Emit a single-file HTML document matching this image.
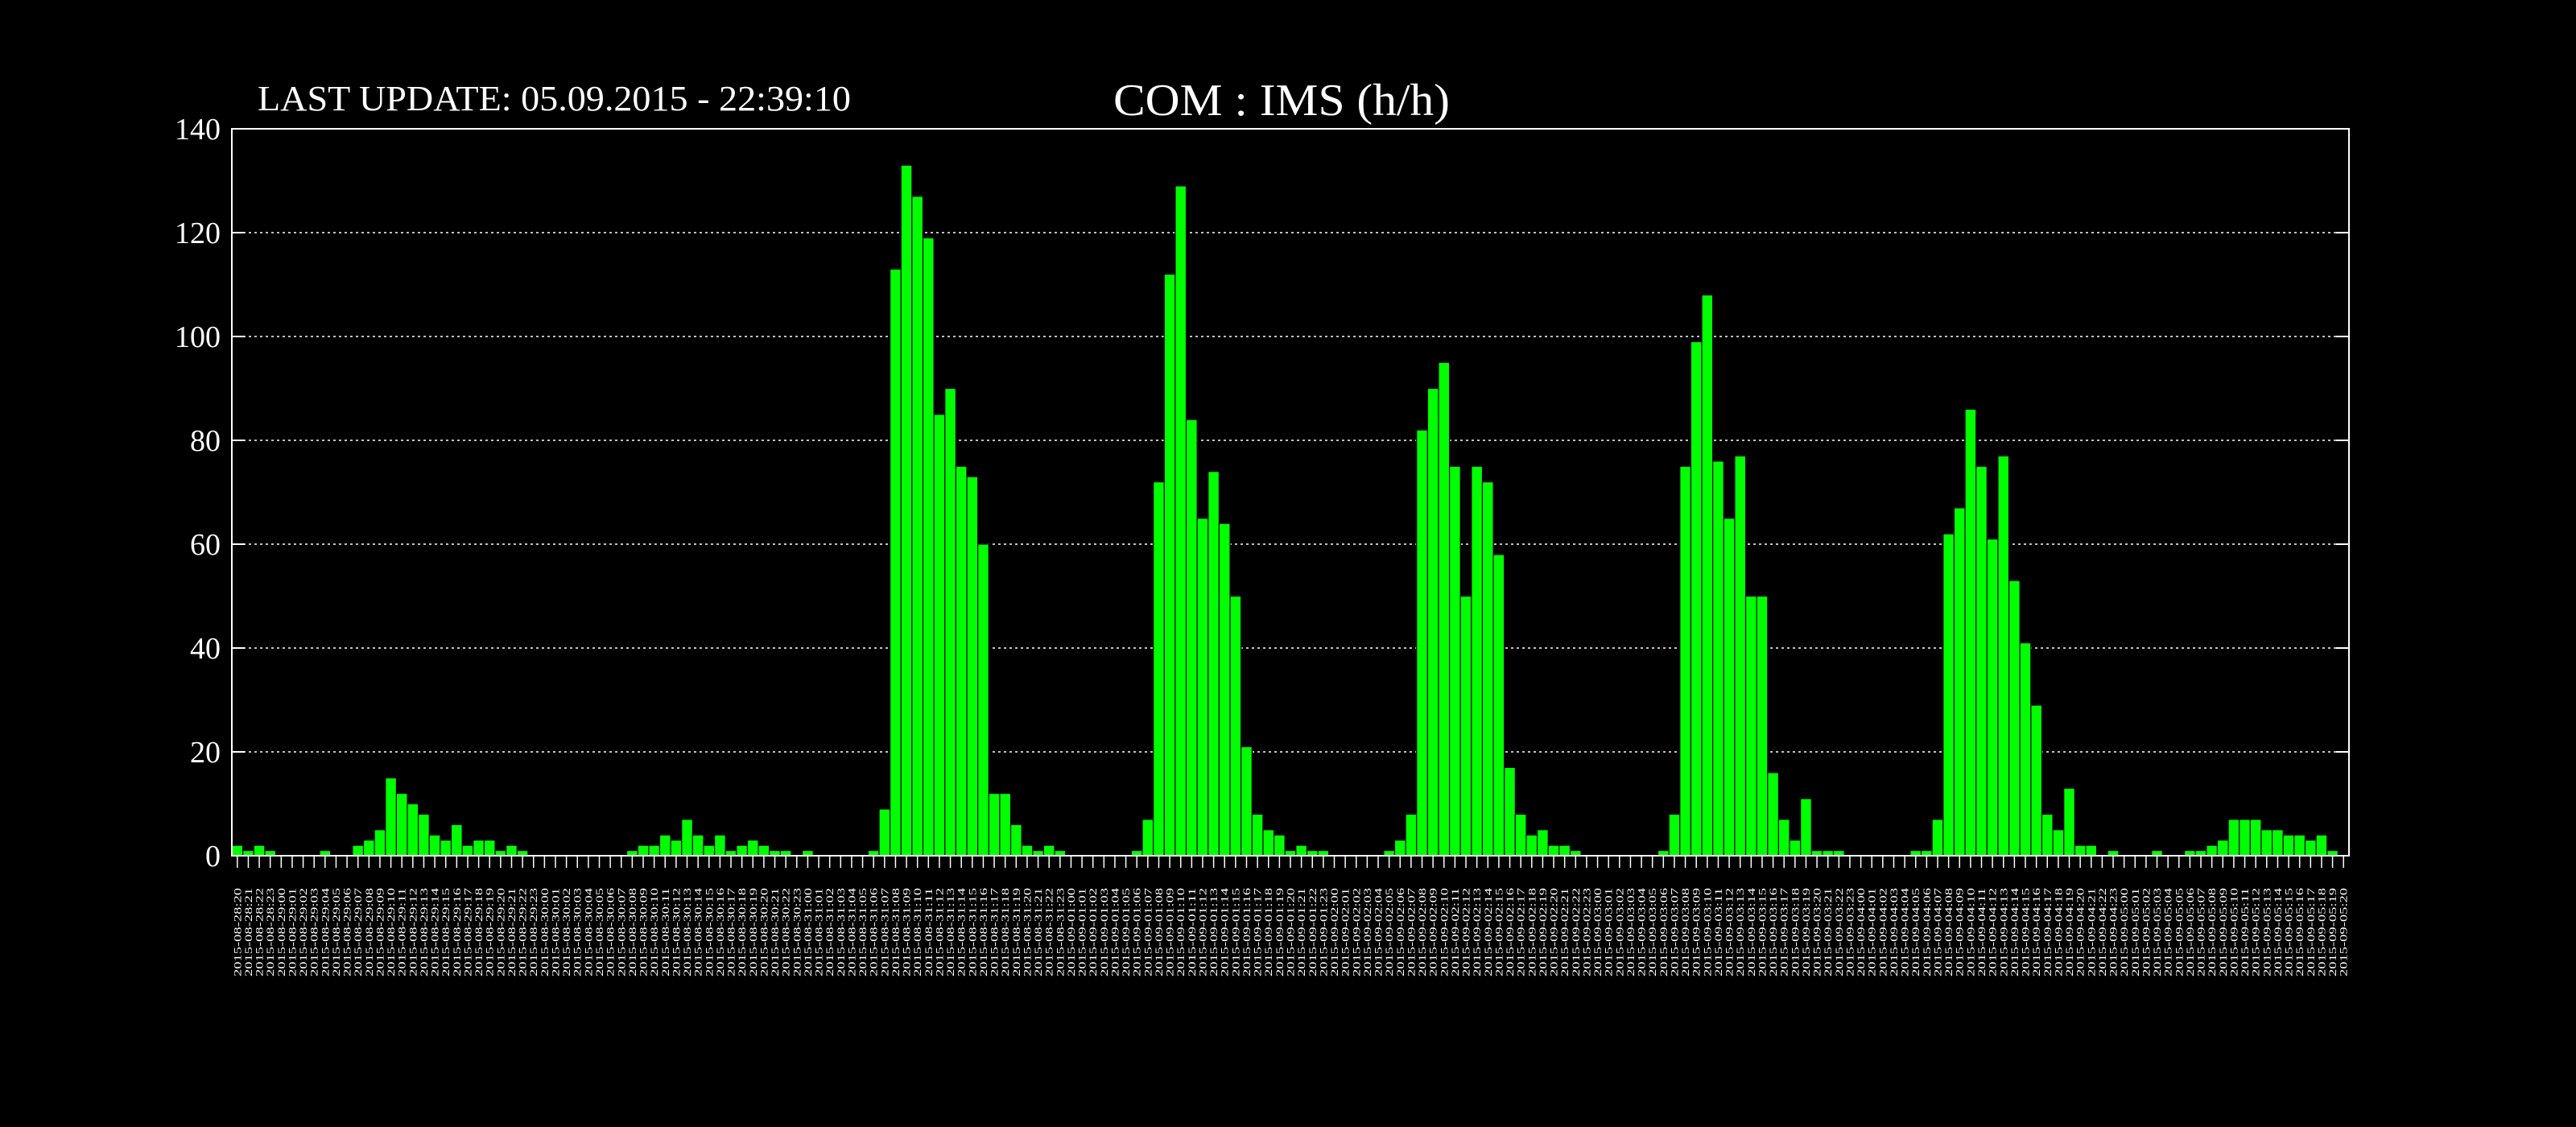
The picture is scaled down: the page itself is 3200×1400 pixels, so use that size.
<!DOCTYPE html>
<html>
<head>
<meta charset="utf-8">
<style>
  html, body { margin: 0; padding: 0; background: #000; }
  svg { display: block; }
  text { font-family: "Liberation Serif", serif; fill: #fff; }
</style>
</head>
<body>
<svg id="chart" width="3200" height="1400" viewBox="0 0 3200 1400" xmlns="http://www.w3.org/2000/svg">
  <rect x="0" y="0" width="3200" height="1400" fill="#000"/>
  <text x="320" y="137" font-size="44" textLength="737" lengthAdjust="spacingAndGlyphs">LAST UPDATE: 05.09.2015 - 22:39:10</text>
  <text x="1592" y="143" font-size="56" text-anchor="middle" textLength="418" lengthAdjust="spacingAndGlyphs">COM : IMS (h/h)</text>
  <g id="grid"></g>
  <g id="bars"></g>
  <g id="yaxis"></g>
  <g id="xaxis"></g>
  <rect x="288" y="160" width="2630" height="903" fill="none" stroke="#fff" stroke-width="2"/>
</svg>
<script>
// ---- data ----
const startDate = [2015, 8, 28, 20];
const values = [
  2,1,2,1,0,0,0,0,1,0,
  0,2,3,5,15,12,10,8,4,3,
  6,2,3,3,1,2,1,0,0,0,
  0,0,0,0,0,0,1,2,2,4,
  3,7,4,2,4,1,2,3,2,1,
  1,0,1,0,0,0,0,0,1,9,
  113,133,127,119,85,90,75,73,60,12,
  12,6,2,1,2,1,0,0,0,0,
  0,0,1,7,72,112,129,84,65,74,
  64,50,21,8,5,4,1,2,1,1,
  0,0,0,0,0,1,3,8,82,90,
  95,75,50,75,72,58,17,8,4,5,
  2,2,1,0,0,0,0,0,0,0,
  1,8,75,99,108,76,65,77,50,50,
  16,7,3,11,1,1,1,0,0,0,
  0,0,0,1,1,7,62,67,86,75,
  61,77,53,41,29,8,5,13,2,2,
  0,1,0,0,0,1,0,0,1,1,
  2,3,7,7,7,5,5,4,4,3,
  4,1,0
];
const yTicks = [0, 20, 40, 60, 80, 100, 120, 140];
const yMax = 140;
const categories = [];
(function () {
  const d = new Date(Date.UTC(startDate[0], startDate[1] - 1, startDate[2], startDate[3]));
  for (let i = 0; i < values.length; i++) {
    const t = new Date(d.getTime() + i * 3600000);
    const p = n => String(n).padStart(2, '0');
    categories.push(t.getUTCFullYear() + '-' + p(t.getUTCMonth() + 1) + '-' + p(t.getUTCDate()) + ':' + p(t.getUTCHours()));
  }
})();

// ---- layout ----
const NS = 'http://www.w3.org/2000/svg';
const L = 288, R = 2918, T = 160, B = 1063;
const bw = (R - L) / categories.length;
const xBand = i => L + i * bw;
const yScale = v => B - (v / yMax) * (B - T);
function mk(tag, attrs, parent) {
  const e = document.createElementNS(NS, tag);
  for (const k in attrs) e.setAttribute(k, attrs[k]);
  parent.appendChild(e);
  return e;
}
const gGrid = document.getElementById('grid');
const gBars = document.getElementById('bars');
const gY = document.getElementById('yaxis');
const gX = document.getElementById('xaxis');

yTicks.forEach(v => {
  const y = yScale(v);
  if (v > 0 && v < yMax) {
    const gl = mk('line', {x1: L, x2: R, y1: y, y2: y, stroke: '#fff', 'stroke-width': 1.5, 'stroke-dasharray': '3,4'}, gGrid);
    
    
    const tl = mk('line', {x1: L, x2: L + 16, y1: y, y2: y, stroke: '#fff', 'stroke-width': 2}, gY);
    
    
    const tr = mk('line', {x1: R - 16, x2: R, y1: y, y2: y, stroke: '#fff', 'stroke-width': 2}, gY);
    
    
  }
  const t = mk('text', {x: 274, y: y + 13, 'font-size': 38, 'text-anchor': 'end'}, gY);
  t.textContent = String(v);
  
  
});

values.forEach((v, i) => {
  if (v <= 0) return;
  const y = yScale(v);
  const r = mk('rect', {x: xBand(i), y: y, width: bw, height: B - y, fill: '#00ff00', stroke: '#000', 'stroke-width': 1.2}, gBars);
  
  
});

categories.forEach((c, i) => {
  const cx = xBand(i) + bw / 2;
  const tk = mk('line', {x1: cx, x2: cx, y1: B, y2: B + 15, stroke: '#fff', 'stroke-width': 1.5}, gX);
  
  
  const t = mk('text', {x: 0, y: 0, 'font-size': 13, 'text-anchor': 'end', textLength: 110, lengthAdjust: 'spacingAndGlyphs', transform: 'translate(' + (cx + 4.5) + ',1103) rotate(-90)'}, gX);
  t.textContent = c;
  
  
});
</script>
</body>
</html>
